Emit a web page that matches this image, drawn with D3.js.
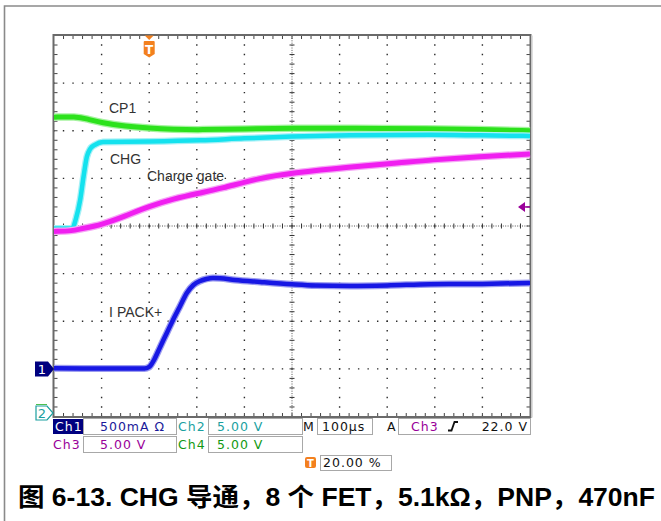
<!DOCTYPE html>
<html><head><meta charset="utf-8">
<script src="https://cdn.jsdelivr.net/npm/d3@7"></script>
<style>body{margin:0;background:#fff}</style>
</head><body>
<svg id="c" width="661" height="521"></svg>
<script>
// ---- data (time in µs, Ch2/3/4 in V, Ch1 in A) ----
const cp1T = [-200,-155,-130,-100,-50,0,50,107,200,300,422,590,695,800];
const cp1V = [31.43,31.49,31.25,30.83,30.46,30.27,30.15,30.09,30.20,30.27,30.27,30.20,30.15,29.99];
const chgT = [-200,-162,-154,-145,-138,-131,-124,-114,-97,0,107,200,300,422,590,695,800];
const chgV = [19.75,19.75,20.75,22.74,25.16,27.26,28.10,28.52,28.83,28.87,28.99,29.20,29.39,29.52,29.57,29.52,29.46];
const gateT = [-200,-160,-145,-100,-50,0,50,107,149,233,300,422,527,590,695,800];
const gateV = [19.43,19.49,19.70,20.12,21.06,22.06,22.85,23.48,23.90,25.06,25.58,26.21,26.63,26.94,27.26,27.57];
const ipackT = [-200,-100,-10,0,10,23,37,50,65,79,93,107,120,134,149,180,233,300,350,422,500,590,700,800];
const ipackA = [0.006,0.004,0.004,0.020,0.093,0.230,0.377,0.514,0.661,0.797,0.881,0.923,0.944,0.955,0.952,0.934,0.913,0.889,0.876,0.871,0.876,0.889,0.892,0.902];
const traceLabels = ["CP1","CHG","Charge gate","IPACK+"];
const chScales = ["500mA Ω","5.00 V","5.00 V","5.00 V"];
const timebase = "100µs";
const trigLevel = 22.0;
const trigText = "22.0 V";
const trigPos = "20.00 %";
const caption = "图 6-13. CHG 导通，8 个 FET，5.1kΩ，PNP，470nF";

const svg = d3.select("#c");
const L = 54, R = 530, T = 35.5, B = 416.5;
const x = d3.scaleLinear().domain([-200, 800]).range([L, R]);
const yDiv = d3.scaleLinear().domain([-4, 4]).range([B, T]);
const yV = d3.scaleLinear().domain([0, 40]).range([B, T]);     // 5 V/div, ground at bottom
const yA = d3.scaleLinear().domain([-0.5, 3.5]).range([B, T]); // 0.5 A/div, ground at -3 div

// outer frame
svg.append("path").attr("d", `M4.5,521 V6 H661`).attr("fill","none").attr("stroke","#8a8a8a").attr("stroke-width",1.6);

// graticule
const g = svg.append("g");
const minX = (R - L) / 50, minY = (B - T) / 40;
const dotCol = "#2a2a2a";
for (let i = 1; i < 10; i++) {
  const xx = x(-200 + i * 100);
  if (i === 5) continue;
  g.append("line").attr("x1", xx).attr("x2", xx).attr("y1", T).attr("y2", B)
    .attr("stroke", dotCol).attr("stroke-width", 1.4)
    .attr("stroke-dasharray", `1.4 ${minY - 1.4}`).attr("stroke-dashoffset", 0.7);
}
for (let j = 1; j < 8; j++) {
  const yy = yDiv(-4 + j);
  if (j === 4) continue;
  g.append("line").attr("x1", L).attr("x2", R).attr("y1", yy).attr("y2", yy)
    .attr("stroke", dotCol).attr("stroke-width", 1.4)
    .attr("stroke-dasharray", `1.4 ${minX - 1.4}`).attr("stroke-dashoffset", 0.7);
}
// center lines
const cx = x(300), cy = yDiv(0);
g.append("line").attr("x1", cx).attr("x2", cx).attr("y1", T).attr("y2", B)
  .attr("stroke", "#555").attr("stroke-width", 1).attr("stroke-dasharray", "1 1.4");
g.append("line").attr("x1", L).attr("x2", R).attr("y1", cy).attr("y2", cy)
  .attr("stroke", "#555").attr("stroke-width", 1).attr("stroke-dasharray", "1 1.4");
for (let k = 1; k < 50; k++) {
  const xx = L + k * minX;
  g.append("line").attr("x1", xx).attr("x2", xx).attr("y1", cy - 2.5).attr("y2", cy + 2.5).attr("stroke", "#333").attr("stroke-width", 1);
  g.append("line").attr("x1", xx).attr("x2", xx).attr("y1", T).attr("y2", T + 3.5).attr("stroke", "#444").attr("stroke-width", 1);
  g.append("line").attr("x1", xx).attr("x2", xx).attr("y1", B - 3.5).attr("y2", B).attr("stroke", "#444").attr("stroke-width", 1);
}
for (let k = 1; k < 40; k++) {
  const yy = T + k * minY;
  g.append("line").attr("y1", yy).attr("y2", yy).attr("x1", cx - 2.5).attr("x2", cx + 2.5).attr("stroke", "#333").attr("stroke-width", 1);
  g.append("line").attr("y1", yy).attr("y2", yy).attr("x1", L).attr("x2", L + 3.5).attr("stroke", "#444").attr("stroke-width", 1);
  g.append("line").attr("y1", yy).attr("y2", yy).attr("x1", R - 3.5).attr("x2", R).attr("stroke", "#444").attr("stroke-width", 1);
}
// border
g.append("rect").attr("x", L - 0.5).attr("y", T - 0.5).attr("width", R - L + 1).attr("height", B - T + 1)
  .attr("fill", "none").attr("stroke", "#6a6a6a").attr("stroke-width", 2);
g.append("line").attr("x1", R + 1.8).attr("x2", R + 1.8).attr("y1", T).attr("y2", B + 1).attr("stroke", "#c8c8c8").attr("stroke-width", 1.6);

// traces
function trace(ts, vs, ys, core, glow, w, curve) {
  const pts = ts.map((t, i) => [x(t), ys(vs[i])]);
  const line = d3.line().curve(curve);
  svg.append("path").attr("d", line(pts)).attr("fill", "none").attr("stroke", glow).attr("stroke-width", w + 2.5).attr("stroke-linejoin","round");
  svg.append("path").attr("d", line(pts)).attr("fill", "none").attr("stroke", core).attr("stroke-width", w).attr("stroke-linejoin","round");
}
trace(cp1T, cp1V, yV, "#2ce21c", "#a6f3a0", 5, d3.curveBasis);
trace(chgT, chgV, yV, "#14e2ee", "#a6f0f6", 4.5, d3.curveMonotoneX);
trace(gateT, gateV, yV, "#f01ef0", "#f6a6f6", 5, d3.curveBasis);
trace(ipackT, ipackA, yA, "#1717e4", "#9c9cf0", 4.5, d3.curveMonotoneX);

// trace labels
const lab = svg.append("g").attr("font-family", "Liberation Sans, Arial, sans-serif").attr("font-size", 14).attr("fill", "#333");
lab.append("text").attr("x", 109).attr("y", 113).text(traceLabels[0]);
lab.append("text").attr("x", 110).attr("y", 164).text(traceLabels[1]);
lab.append("text").attr("x", 147).attr("y", 181).text(traceLabels[2]);
const ip = lab.append("text").attr("x", 109).attr("y", 317);
ip.append("tspan").text(traceLabels[3].slice(0, 1));
ip.append("tspan").attr("dx", 4).text(traceLabels[3].slice(1));

// trigger position marker (T)
const orange = "#f3801e";
const tx = x(0);
svg.append("path").attr("d", `M${tx-4.5},35.5 L${tx+4.5},35.5 L${tx},40 Z`).attr("fill", orange);
svg.append("path").attr("d", `M${tx-5.5},42 Q${tx-5.5},41 ${tx-4.5},41 L${tx+4.5},41 Q${tx+5.5},41 ${tx+5.5},42 L${tx+5.5},54 L${tx},57.5 L${tx-5.5},54 Z`).attr("fill", orange);
svg.append("text").attr("x", tx).attr("y", 53.5).attr("text-anchor", "middle").attr("font-family", "DejaVu Sans, sans-serif")
  .attr("font-weight", "bold").attr("font-size", 12).attr("fill", "#fff").text("T");

// trigger level marker (right)
const ty = yV(trigLevel);
svg.append("path").attr("d", `M${R-12},${ty} L${R-5},${ty-5} L${R-5},${ty+5} Z`).attr("fill", "#9a009a");
svg.append("line").attr("x1", R - 6).attr("x2", R).attr("y1", ty).attr("y2", ty).attr("stroke", "#9a009a").attr("stroke-width", 1.5);

// channel ground markers
const m1 = yA(0);
svg.append("path").attr("d", `M35,${m1-7.5} H48 L54,${m1} L48,${m1+7.5} H35 Z`).attr("fill", "#00007f");
svg.append("text").attr("x", 42).attr("y", m1 + 5).attr("text-anchor", "middle").attr("font-family", "DejaVu Sans, sans-serif")
  .attr("font-size", 13).attr("fill", "#fff").text("1");
const m2 = 413;
svg.append("path").attr("d", `M36,${m2-7} H47 L53,${m2} L47,${m2+7} H36 Z`).attr("fill", "#fff").attr("stroke", "#1a9f9f").attr("stroke-width", 1.2);
svg.append("line").attr("x1", 36).attr("x2", 47).attr("y1", m2 - 8.5).attr("y2", m2 - 8.5).attr("stroke", "#4fbf4f").attr("stroke-width", 1);
svg.append("text").attr("x", 42).attr("y", m2 + 5).attr("text-anchor", "middle").attr("font-family", "DejaVu Sans, sans-serif")
  .attr("font-size", 13).attr("fill", "#1a9f9f").text("2");

// info panel
const info = svg.append("g").attr("font-family", "DejaVu Sans, Verdana, sans-serif").attr("font-size", 12.5).attr("letter-spacing", 1);
function box(x0, y0, w, h) {
  info.append("rect").attr("x", x0 + 0.5).attr("y", y0 + 0.5).attr("width", w).attr("height", h).attr("fill", "#fff").attr("stroke", "#a8a8a8").attr("stroke-width", 1);
}
function txt(x0, y0, s, col, anchor) {
  info.append("text").attr("x", x0).attr("y", y0).attr("fill", col).attr("text-anchor", anchor || "start").text(s);
}
const r1 = 431, r2 = 449;
info.append("rect").attr("x", 53).attr("y", 419).attr("width", 30).attr("height", 15).attr("fill", "#00007f");
txt(55, r1, "Ch1", "#fff");
box(83, 418, 93, 16); txt(100, r1, chScales[0], "#1a1a9a");
txt(178, r1, "Ch2", "#1a9f9f");
box(208, 418, 94, 16); txt(217, r1, chScales[1], "#1a9f9f");
txt(303, r1, "M", "#111");
box(317, 418, 55, 16); txt(322, r1, timebase, "#111");
txt(387, r1, "A", "#111");
box(398, 418, 132, 16); txt(411, r1, "Ch3", "#990099");
info.append("path").attr("d", `M448,${r1-0.5} H451.5 L454.5,${r1-9} H458`).attr("fill", "none").attr("stroke", "#111").attr("stroke-width", 1.8);
txt(528, r1, trigText, "#111", "end");
txt(53, r2, "Ch3", "#990099");
box(83, 436, 93, 16); txt(100, r2, chScales[2], "#990099");
txt(178, r2, "Ch4", "#119911");
box(208, 436, 94, 16); txt(217, r2, chScales[3], "#119911");
info.append("rect").attr("x", 305).attr("y", 457).attr("width", 11).attr("height", 11).attr("rx", 2).attr("fill", orange);
info.append("text").attr("x", 310.5).attr("y", 466.5).attr("text-anchor", "middle").attr("font-size", 10).attr("font-weight", "bold").attr("letter-spacing", 0).attr("fill", "#fff").text("T");
box(320, 455, 71, 15); txt(323, 467, trigPos, "#111");

// caption
svg.append("text").attr("x", 18).attr("y", 506).attr("font-family", "Liberation Sans, Arial, Noto Sans CJK SC, sans-serif")
  .attr("font-weight", "bold").attr("font-size", 25).attr("fill", "#000")
  .attr("textLength", 637).attr("lengthAdjust", "spacingAndGlyphs").text(caption);
</script>
</body></html>
